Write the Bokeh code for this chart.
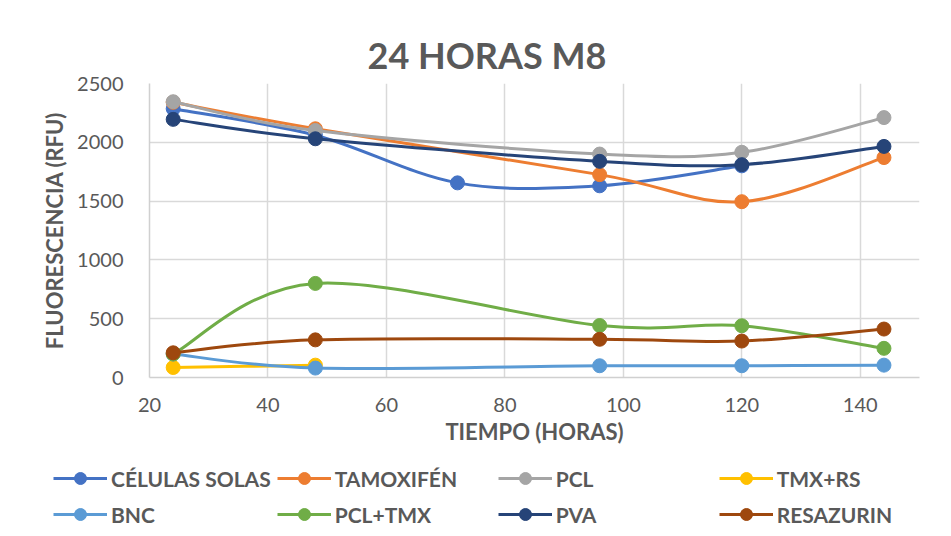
from bokeh.plotting import figure
from bokeh.models import (Range1d, SingleIntervalTicker, Legend, LegendItem,
                          ColumnDataSource)
from bokeh.embed import file_html
from bokeh.resources import INLINE

# ---------------- data ----------------
HOURS = [24, 48, 72, 96, 120, 144]

CELULAS_SOLAS = [2285, 2060, 1655, 1630, 1800, None]
TAMOXIFEN     = [2340, 2115, None, 1725, 1495, 1870]
PCL           = [2345, 2100, None, 1900, 1915, 2210]
TMX_RS        = [85, 105, None, None, None, None]
BNC           = [200, 80, None, 100, 100, 105]
PCL_TMX       = [200, 800, None, 442, 440, 248]
PVA           = [2195, 2030, None, 1838, 1810, 1965]
RESAZURIN     = [210, 320, None, 325, 310, 412]

SERIES_NAMES = ["CÉLULAS SOLAS", "TAMOXIFÉN", "PCL", "TMX+RS",
                "BNC", "PCL+TMX", "PVA", "RESAZURIN"]
SERIES_VALUES = [CELULAS_SOLAS, TAMOXIFEN, PCL, TMX_RS,
                 BNC, PCL_TMX, PVA, RESAZURIN]
COLORS = ["#4472C4", "#ED7D31", "#A5A5A5", "#FFC000",
          "#5B9BD5", "#70AD47", "#264478", "#9E480E"]

TITLE = "24 HORAS M8"
X_LABEL = "TIEMPO (HORAS)"
Y_LABEL = "FLUORESCENCIA (RFU)"

TEXT = "#595959"
GRID = "#d9d9d9"
FONT = "Lato"

p = figure(frame_width=770, frame_height=294,
           min_border_left=149, min_border_right=24,
           min_border_top=83, min_border_bottom=78,
           x_range=Range1d(20, 150), y_range=Range1d(0, 2500),
           output_backend="svg", toolbar_location=None)
p.outline_line_color = None
p.background_fill_color = "white"
p.border_fill_color = "white"

p.title.text = TITLE
p.title.align = "left"
p.title.offset = 218
p.title.standoff = 14
p.title.text_font = FONT
p.title.text_font_size = "36px"
p.title.text_font_style = "bold"
p.title.text_color = TEXT

p.xaxis.ticker = SingleIntervalTicker(interval=20)
p.yaxis.ticker = SingleIntervalTicker(interval=500)
for ax in (p.xaxis, p.yaxis):
    ax.major_tick_line_color = None
    ax.minor_tick_line_color = None
    ax.major_tick_out = 0
    ax.major_tick_in = 0
    ax.axis_line_color = "#d0d0d0"
    ax.axis_line_width = 1.5
    ax.major_label_text_font = FONT
    ax.major_label_text_font_size = "20px"
    ax.major_label_text_color = TEXT
    ax.axis_label_text_font = FONT
    ax.axis_label_text_font_size = "22px"
    ax.axis_label_text_font_style = "bold"
    ax.axis_label_text_color = TEXT
p.xaxis.axis_label = X_LABEL
p.yaxis.axis_label = Y_LABEL
p.xaxis.major_label_standoff = 16
p.xaxis.axis_label_standoff = 3
p.yaxis.major_label_standoff = 22
p.yaxis.axis_label_standoff = 6

p.xgrid.grid_line_color = GRID
p.ygrid.grid_line_color = GRID
p.xgrid.grid_line_width = 1.5
p.ygrid.grid_line_width = 1.5


def smooth_segments(xs, ys):
    """Bezier control points (Catmull-Rom style, like Excel smoothing)."""
    n = len(xs)
    d = dict(x0=[], y0=[], x1=[], y1=[], cx0=[], cy0=[], cx1=[], cy1=[])
    for i in range(n - 1):
        xa, ya = (xs[i - 1], ys[i - 1]) if i > 0 else (xs[i], ys[i])
        xb, yb = (xs[i + 2], ys[i + 2]) if i + 2 < n else (xs[i + 1], ys[i + 1])
        d["x0"].append(xs[i]); d["y0"].append(ys[i])
        d["x1"].append(xs[i + 1]); d["y1"].append(ys[i + 1])
        d["cx0"].append(xs[i] + (xs[i + 1] - xa) / 6)
        d["cy0"].append(ys[i] + (ys[i + 1] - ya) / 6)
        d["cx1"].append(xs[i + 1] - (xb - xs[i]) / 6)
        d["cy1"].append(ys[i + 1] - (yb - ys[i]) / 6)
    return d


# legend lives in its own strip below the chart (its frame covers it fully)
leg_fig = figure(width=943, height=81, min_border=0,
                 x_range=Range1d(-2, -1), y_range=Range1d(-2, -1),
                 output_backend="svg", toolbar_location=None)
leg_fig.axis.visible = False
leg_fig.grid.visible = False
leg_fig.outline_line_color = None
leg_fig.background_fill_color = "white"
leg_fig.border_fill_color = "white"

items = []
for name, vals, color in zip(SERIES_NAMES, SERIES_VALUES, COLORS):
    xs = [h for h, v in zip(HOURS, vals) if v is not None]
    ys = [v for v in vals if v is not None]
    seg = ColumnDataSource(smooth_segments(xs, ys))
    p.bezier(x0="x0", y0="y0", x1="x1", y1="y1",
             cx0="cx0", cy0="cy0", cx1="cx1", cy1="cy1",
             source=seg, line_color=color, line_width=3, line_cap="round")
    p.scatter(xs, ys, size=14, marker="circle",
              fill_color=color, line_color=color)
    # same series in the legend strip (outside its visible range)
    l_line = leg_fig.line(xs, ys, line_color=color, line_width=3)
    l_pts = leg_fig.scatter(xs, ys, size=14, marker="circle",
                            fill_color=color, line_color=color)
    items.append(LegendItem(label=name, renderers=[l_line, l_pts]))

legend = Legend(items=items, location=(53, 7), orientation="horizontal",
                ncols=4, padding=0, margin=0, spacing=6,
                glyph_width=54, glyph_height=30, label_height=30,
                label_width=157, label_standoff=4,
                label_text_font=FONT, label_text_font_size="21px",
                label_text_font_style="bold", label_text_color=TEXT,
                border_line_color=None, background_fill_alpha=0)
leg_fig.add_layout(legend, "center")

open("out.html", "w").write(file_html([p, leg_fig], INLINE))
